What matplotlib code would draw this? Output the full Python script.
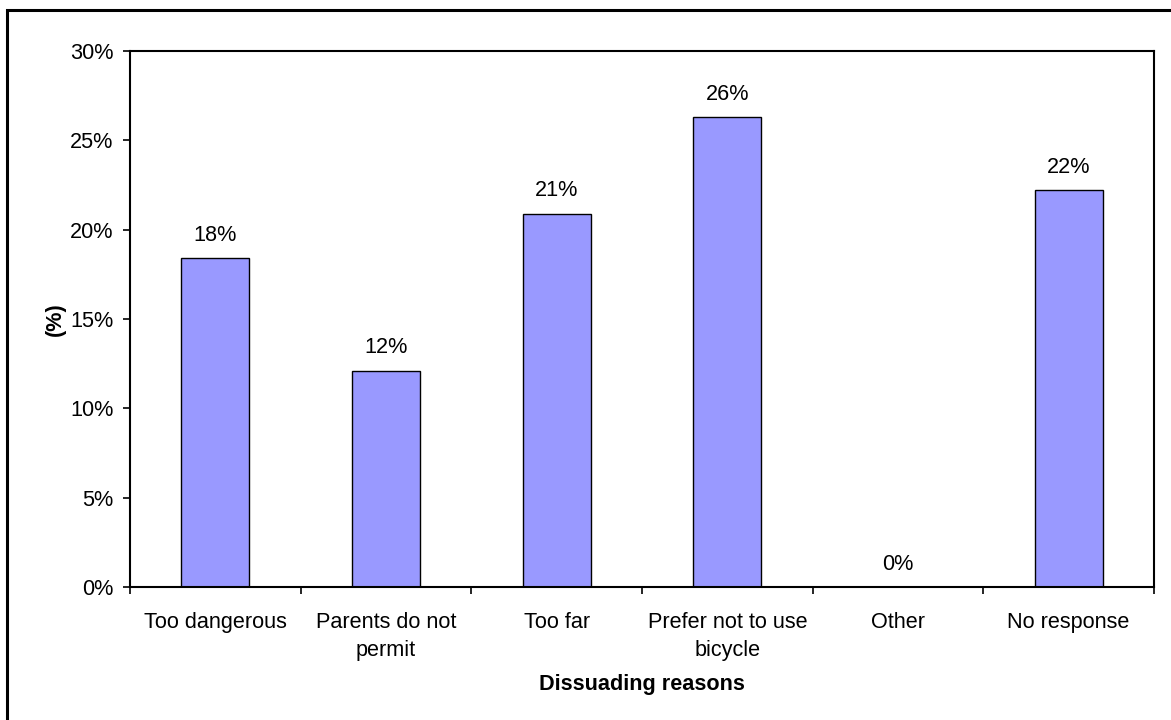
import matplotlib.pyplot as plt
import matplotlib.ticker as ticker
from matplotlib.patches import Rectangle

# survey data: reasons pupils gave for not cycling
reasons = ["Too dangerous", "Parents do not\npermit", "Too far",
           "Prefer not to use\nbicycle", "Other", "No response"]
shares = [18.4, 12.1, 20.9, 26.3, 0.0, 22.2]
value_labels = ["18%", "12%", "21%", "26%", "0%", "22%"]

plt.rcParams["font.family"] = ["Liberation Sans", "DejaVu Sans"]
fs = 15.6

fig = plt.figure(figsize=(11.71, 7.2), dpi=100)
ax = fig.add_axes([130 / 1171, 133 / 720, 1024 / 1171, 536 / 720])

x = list(range(len(reasons)))
bars = ax.bar(x, shares, width=0.4, color="#9999FF", edgecolor="black",
              linewidth=1.0, zorder=2)

for bar, txt in zip(bars, value_labels):
    ax.annotate(txt, (bar.get_x() + bar.get_width() / 2, bar.get_height()),
                xytext=(0, 9), textcoords="offset points",
                ha="center", va="bottom", fontsize=fs)

ax.set_xlim(-0.5, len(reasons) - 0.5)
ax.set_ylim(0, 30)
ax.yaxis.set_major_locator(ticker.MultipleLocator(5))
ax.yaxis.set_major_formatter(ticker.FuncFormatter(lambda v, _: f"{int(v)}%"))

# category boundaries carry the tick marks, names sit between them
ax.set_xticks([i - 0.5 for i in range(len(reasons) + 1)])
ax.set_xticklabels([])
ax.set_xticks(x, minor=True)
ax.set_xticklabels(reasons, minor=True, fontsize=fs, linespacing=1.45)
ax.tick_params(axis="x", which="minor", length=0, pad=18)
ax.tick_params(axis="x", which="major", length=5, width=1.2, direction="out")
ax.tick_params(axis="y", length=5, width=1.2, direction="out", pad=7,
               labelsize=fs)

for side in ax.spines.values():
    side.set_linewidth(1.5)
    side.set_color("black")

ax.set_xlabel("Dissuading reasons", fontsize=fs, fontweight="bold", labelpad=9)
ax.set_ylabel("(%)", fontsize=fs, fontweight="bold", labelpad=3)

# outer chart frame
fig.patches.append(Rectangle((7 / 1171, -0.05), 1.2, (720 - 10) / 720 + 0.05,
                             transform=fig.transFigure, fill=False,
                             edgecolor="black", linewidth=2.2, clip_on=False))

fig.savefig("out.png", dpi=100)
